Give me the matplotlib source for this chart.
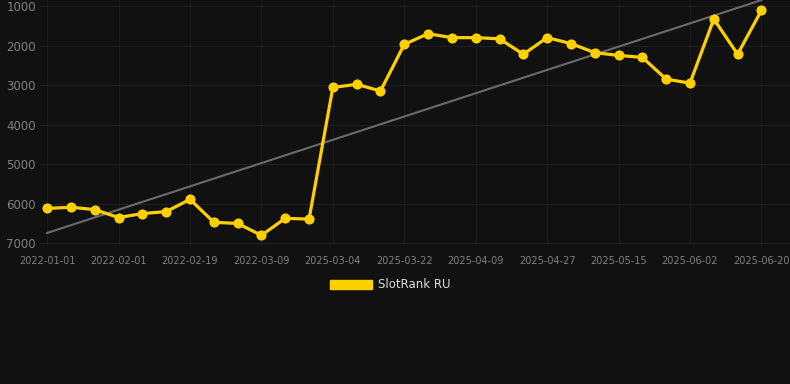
import matplotlib.pyplot as plt
from matplotlib.patches import Patch

# fechas (eje categorico, un punto por fecha)
tick_labels = ['2022-01-01', '2022-02-01', '2022-02-19', '2022-03-09', '2025-03-04',
               '2025-03-22', '2025-04-09', '2025-04-27', '2025-05-15', '2025-06-02', '2025-06-20']

# valores de ranking
rank = [6120, 6090, 6150, 6350, 6250, 6200, 5890, 6470, 6500, 6800,
        6370, 6390, 3060, 2980, 3150, 1970, 1700, 1800, 1800, 1830,
        2220, 1800, 1950, 2180, 2250, 2300, 2850, 2950, 1330, 2220, 1110]

# linea de tendencia (inicio y fin)
trend = [6740, 850]

bg = '#111111'
fig = plt.figure(figsize=(7.9, 3.84), dpi=100, facecolor=bg)
ax = fig.add_axes([40 / 790, 1 - 246 / 384, 750 / 790, 246 / 384], facecolor=bg)

x = list(range(len(rank)))
ax.plot([x[0], x[-1]], trend, color='#6a6a6a', linewidth=1.5, zorder=2)
ax.plot(x, rank, color='#ffd000', linewidth=2.3, marker='o', markersize=7.3,
        markeredgewidth=0, label='SlotRank RU', zorder=3)

ax.set_ylim(7070, 848)
ax.set_xlim(-0.3, 31.2)
ax.set_yticks([1000, 2000, 3000, 4000, 5000, 6000, 7000])
ax.set_xticks(x[::3])
ax.set_xticklabels(tick_labels)

ax.grid(True, axis='y', color='#1f1f1f', linewidth=0.8)
ax.grid(True, axis='x', color='#1a1a1a', linewidth=0.8)
ax.set_axisbelow(True)
for s in ax.spines.values():
    s.set_visible(False)
ax.tick_params(axis='y', length=0, pad=3, labelsize=8.5, labelcolor='#808080')
ax.tick_params(axis='x', length=0, pad=7, labelsize=7, labelcolor='#808080')

# leyenda con un rectangulo como en el original
handle = Patch(facecolor='#ffd000', edgecolor='#ffd000')
fig.legend([handle], ['SlotRank RU'], loc='center', bbox_to_anchor=(390 / 790, 1 - 285 / 384),
           frameon=False, fontsize=8.5, labelcolor='#dddddd', handlelength=3.6,
           handleheight=0.9, handletextpad=0.5)

plt.savefig('out.png', dpi=100, facecolor=bg)
